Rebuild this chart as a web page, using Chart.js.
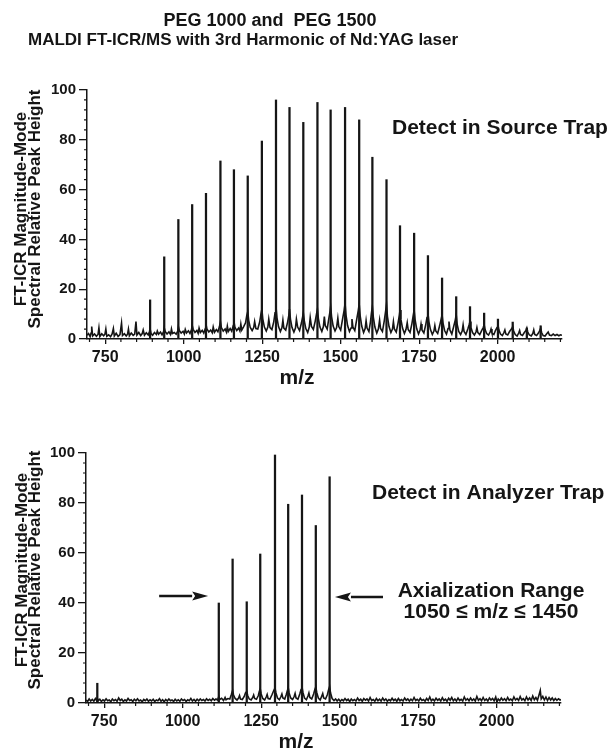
<!DOCTYPE html>
<html>
<head>
<meta charset="utf-8">
<script src="https://cdn.jsdelivr.net/npm/chart.js@4.4.1/dist/chart.umd.min.js"></script>
<style>
  html, body { margin: 0; padding: 0; background: #fff; }
  .wrap { position: relative; width: 612px; height: 751px; overflow: hidden; }
  canvas { position: absolute; left: 0; }
  #topChart { top: 0; }
  #bottomChart { top: 390px; }
</style>
</head>
<body>
<div class="wrap">
  <canvas id="topChart" width="612" height="390"></canvas>
  <canvas id="bottomChart" width="612" height="361"></canvas>
</div>
<script>
const INK = '#151515';
const FONT = "'Liberation Sans', Arial, Helvetica, sans-serif";

// axes
const mzRange = [692, 2205];
const mzTicks = [750, 1000, 1250, 1500, 1750, 2000];
const relTicks = [0, 20, 40, 60, 80, 100];

// PEG 1000 + PEG 1500, detect in source trap (peak m/z and relative height)
const sourcePeakMz = [893, 938, 983, 1027, 1071, 1117, 1160, 1204, 1249, 1294, 1337, 1381, 1426, 1468,
  1514, 1559, 1601, 1646, 1689, 1734, 1778, 1823, 1868, 1912, 1957, 2001, 2048, 2093, 2137];
const sourcePeakHeight = [15.7, 33, 48, 54, 58.5, 71.5, 68, 65.5, 79.5, 96, 93, 87, 95, 92,
  93, 88, 73, 64, 45.5, 42.5, 33.5, 24.5, 17, 13, 10.4, 8, 6.8, 4.4, 5.3];

// noisy trace under the peaks (m/z, height)
const sourceBaseline = [
  [692,1.5],[697,2.2],[702,1.0],[705,2.4],[707,5.0],[710,1.2],[716,2.0],[722,1.1],[727,1.8],[730,4.5],
  [733,1.0],[739,2.1],[745,1.3],[749,1.9],[752,4.0],[755,1.1],[761,1.7],[767,0.9],[772,2.0],[776,4.2],
  [779,1.2],[785,2.3],[791,1.0],[797,1.8],[802,6.4],[805,1.4],[811,2.1],[817,1.2],[821,1.9],[824,4.0],
  [827,1.3],[833,2.4],[839,1.5],[844,2.0],[848,7.0],[851,1.6],[857,2.6],[863,1.4],[868,2.2],[871,3.6],
  [875,1.5],[881,2.5],[887,1.6],[891,3.0],
  [893,4.0],[896,2.2],[901,1.5],[907,2.6],[913,1.8],[916,3.2],[920,1.9],[926,2.8],[931,1.7],[936,3.0],
  [938,4.5],[941,3.0],[947,2.0],[953,2.9],[958,1.8],[961,4.0],[964,2.2],[970,2.6],[976,1.9],[981,3.2],
  [983,5.0],[986,3.4],[992,2.4],[998,3.1],[1002,2.0],[1005,3.8],[1009,2.4],[1015,3.3],[1020,2.2],[1025,3.8],
  [1027,5.5],[1030,3.9],[1036,2.6],[1042,3.4],[1046,2.3],[1049,4.4],[1053,2.6],[1059,3.5],[1064,2.4],[1069,4.2],
  [1071,6.0],[1074,4.0],[1080,2.8],[1086,3.6],[1091,2.5],[1094,4.8],[1098,2.7],[1104,3.8],[1109,2.9],[1114,5.0],
  [1117,7.0],[1120,4.6],[1126,3.2],[1132,4.0],[1136,2.8],[1139,5.2],[1142,3.0],[1148,4.2],[1153,3.1],[1158,5.4],
  [1160,7.2],[1163,4.8],[1169,3.4],[1175,4.4],[1179,3.2],[1182,6.0],[1185,3.6],[1191,5.0],[1197,6.5],[1201,9.5],
  [1204,11.0],[1207,7.5],[1212,4.6],[1218,3.4],[1223,4.6],[1226,7.0],[1230,4.2],[1236,4.0],[1242,6.8],[1246,10.0],
  [1249,12.0],[1252,8.0],[1257,4.8],[1263,3.2],[1268,4.8],[1271,8.0],[1275,4.6],[1281,3.8],[1287,7.0],[1291,10.5],
  [1294,13.0],[1297,8.6],[1302,5.0],[1308,3.0],[1313,4.6],[1316,7.6],[1319,4.4],[1325,3.6],[1331,6.8],[1335,9.6],
  [1337,12.0],[1340,8.0],[1345,4.6],[1351,2.8],[1356,4.4],[1359,8.0],[1363,4.8],[1369,3.4],[1375,6.4],[1379,9.0],
  [1381,10.5],[1384,7.4],[1389,4.2],[1395,2.6],[1400,4.8],[1403,8.6],[1407,5.0],[1413,3.8],[1419,7.2],[1423,10.0],
  [1426,12.0],[1429,8.2],[1434,4.8],[1440,3.0],[1445,5.0],[1448,9.0],[1451,5.4],[1457,4.0],[1462,8.0],[1466,11.0],
  [1468,13.0],[1471,9.0],[1476,5.2],[1482,3.2],[1487,4.6],[1491,8.4],[1494,5.0],[1500,3.6],[1506,8.0],[1511,11.5],
  [1514,14.3],[1517,9.6],[1522,5.4],[1528,3.0],[1533,4.4],[1536,8.0],[1539,4.8],[1545,3.4],[1551,7.8],[1556,11.4],
  [1559,14.0],[1562,9.4],[1567,5.2],[1573,2.6],[1578,4.2],[1581,7.4],[1584,4.4],[1590,3.0],[1595,7.0],[1598,10.4],
  [1601,13.0],[1604,8.8],[1609,4.8],[1615,2.4],[1620,4.0],[1624,7.6],[1627,4.2],[1633,3.0],[1639,7.4],[1643,11.0],
  [1646,14.0],[1649,9.0],[1654,5.0],[1660,2.6],[1665,4.0],[1668,7.0],[1671,4.0],[1677,2.8],[1683,6.6],[1687,9.6],
  [1689,11.6],[1692,7.8],[1697,4.4],[1703,2.2],[1708,3.8],[1712,6.6],[1715,3.8],[1721,2.6],[1727,6.2],[1731,9.4],
  [1734,11.6],[1737,7.8],[1742,4.2],[1748,2.0],[1753,3.6],[1756,6.0],[1759,3.6],[1765,2.4],[1771,5.8],[1775,8.6],
  [1778,10.4],[1781,7.0],[1786,3.8],[1792,1.8],[1797,3.2],[1800,5.4],[1803,3.2],[1809,2.2],[1815,5.2],[1820,8.0],
  [1823,9.7],[1826,6.4],[1831,3.4],[1837,2.0],[1842,4.2],[1845,7.0],[1848,3.6],[1854,2.0],[1860,5.0],[1865,7.6],
  [1868,9.7],[1871,6.0],[1876,3.0],[1882,1.8],[1887,3.2],[1890,5.7],[1893,3.0],[1899,1.8],[1905,4.0],[1909,5.6],
  [1912,7.0],[1915,4.6],[1920,2.6],[1926,1.6],[1931,2.8],[1934,4.6],[1937,2.6],[1943,1.8],[1949,3.4],[1954,4.6],
  [1957,5.7],[1960,3.8],[1965,2.2],[1971,1.6],[1976,2.8],[1979,4.0],[1982,2.4],[1988,1.8],[1993,3.4],[1998,4.6],
  [2001,5.7],[2004,3.6],[2009,2.0],[2015,1.4],[2020,2.6],[2023,3.6],[2026,2.0],[2032,1.6],[2038,3.0],[2044,4.0],
  [2048,5.0],[2051,3.2],[2056,1.8],[2062,1.2],[2067,2.4],[2070,3.4],[2073,1.8],[2079,1.4],[2085,2.6],[2090,3.4],
  [2093,4.4],[2096,2.8],[2101,1.6],[2107,1.2],[2112,2.2],[2115,3.6],[2118,1.8],[2124,1.4],[2130,2.4],[2134,3.4],
  [2137,4.4],[2140,2.6],[2145,1.4],[2151,1.2],[2157,2.2],[2161,2.8],[2165,1.6],[2171,1.4],[2177,2.0],[2183,1.4],
  [2189,1.8],[2195,1.3],[2200,1.7],[2205,1.5]
];

// after axialization 1050-1450, detect in analyzer trap
const analyzerPeakMz = [728, 1115, 1159, 1204, 1247, 1294, 1336, 1380, 1424, 1468];
const analyzerPeakHeight = [7.9, 40, 57.6, 40.5, 59.6, 99.2, 79.5, 83.2, 71, 90.5];

const analyzerBaseline = [
  [692,1.2],[697,0.6],[702,1.6],[707,0.8],[712,1.4],[717,0.7],[722,1.8],[726,1.0],[728,2.0],[731,0.9],
  [736,1.5],[741,0.6],[746,1.3],[751,0.8],[756,1.7],[761,0.9],[766,1.2],[771,0.5],[776,1.6],[781,0.9],
  [786,1.4],[791,0.7],[796,2.0],[801,1.0],[806,1.5],[811,0.6],[816,1.3],[821,0.8],[826,1.8],[831,1.0],
  [836,1.3],[841,0.6],[846,1.5],[851,0.9],[856,1.7],[861,0.8],[866,1.2],[871,0.5],[876,1.4],[881,0.9],
  [886,1.6],[891,0.7],[896,1.3],[901,0.8],[906,1.5],[911,0.6],[916,1.2],[921,0.9],[926,1.7],[931,0.7],
  [936,1.3],[941,0.5],[946,1.4],[951,0.8],[956,1.6],[961,0.9],[966,1.2],[971,0.6],[976,1.5],[981,0.8],
  [986,1.3],[991,0.7],[996,1.6],[1001,1.0],[1006,1.4],[1011,0.6],[1016,1.3],[1021,0.9],[1026,1.8],[1031,0.8],
  [1036,1.4],[1041,0.7],[1046,1.5],[1051,0.9],[1056,1.6],[1061,1.0],[1066,1.4],[1071,0.8],[1076,1.7],[1081,1.0],
  [1086,1.5],[1091,0.9],[1096,1.8],[1101,1.1],[1106,1.6],[1111,1.2],
  [1115,2.6],[1118,1.4],[1124,1.9],[1130,1.0],[1135,2.2],[1138,1.3],[1144,1.8],[1150,1.6],[1155,3.4],
  [1159,5.0],[1162,3.2],[1167,1.8],[1173,1.2],[1178,2.0],[1181,3.0],[1184,1.6],[1190,1.4],[1196,2.6],[1200,4.0],
  [1204,4.6],[1207,3.0],[1212,1.6],[1218,1.2],[1223,2.2],[1226,3.2],[1229,1.8],[1235,1.5],[1241,3.0],[1244,4.6],
  [1247,5.6],[1250,3.6],[1255,1.8],[1261,1.2],[1266,2.4],[1269,3.4],[1272,1.8],[1278,1.6],[1284,3.2],[1290,5.0],
  [1294,6.0],[1297,4.0],[1302,2.0],[1308,1.3],[1313,2.6],[1316,3.6],[1319,2.0],[1325,1.6],[1330,3.4],[1334,5.2],
  [1336,6.2],[1339,4.0],[1344,2.0],[1350,1.4],[1355,2.6],[1358,3.8],[1361,2.0],[1367,1.5],[1373,3.6],[1377,5.4],
  [1380,6.4],[1383,4.2],[1388,2.0],[1394,1.3],[1399,2.8],[1402,4.0],[1405,2.2],[1411,1.6],[1417,3.6],[1421,5.4],
  [1424,6.4],[1427,4.2],[1432,2.0],[1438,1.2],[1443,2.8],[1446,3.8],[1449,2.0],[1455,1.6],[1461,3.4],[1465,5.4],
  [1468,6.6],[1471,4.0],[1476,1.8],[1482,1.0],[1487,1.6],[1492,0.8],[1497,1.5],[1502,0.7],[1507,1.4],[1512,0.9],
  [1517,1.8],[1522,1.0],[1527,1.5],[1532,0.6],[1537,1.6],[1542,0.9],[1547,1.4],[1552,0.8],[1557,2.0],[1562,1.0],
  [1567,1.5],[1572,0.7],[1577,1.8],[1582,1.1],[1587,1.6],[1592,0.8],[1597,2.2],[1602,1.0],[1607,1.4],[1612,0.7],
  [1617,1.8],[1622,0.9],[1627,1.5],[1632,0.8],[1637,2.0],[1642,1.0],[1647,1.6],[1652,0.7],[1657,1.4],[1662,0.9],
  [1667,1.9],[1672,1.0],[1677,1.5],[1682,0.7],[1687,1.8],[1692,0.9],[1697,1.4],[1702,0.8],[1707,2.0],[1712,1.1],
  [1717,1.6],[1722,0.8],[1727,1.5],[1732,0.9],[1737,2.2],[1742,1.0],[1747,1.5],[1752,0.8],[1757,1.9],[1762,1.0],
  [1767,1.4],[1772,0.7],[1777,1.8],[1782,1.0],[1787,2.4],[1792,0.9],[1797,1.5],[1802,0.8],[1807,1.9],[1812,1.1],
  [1817,1.6],[1822,0.8],[1827,2.1],[1832,1.0],[1837,1.5],[1842,0.7],[1847,1.9],[1852,1.1],[1857,2.2],[1862,0.9],
  [1867,1.6],[1872,0.8],[1877,2.0],[1882,1.0],[1887,1.5],[1892,0.8],[1897,2.4],[1902,1.1],[1907,1.7],[1912,0.9],
  [1917,2.0],[1922,1.0],[1927,1.6],[1932,0.8],[1937,2.6],[1942,1.1],[1947,1.7],[1952,0.9],[1957,2.2],[1962,1.0],
  [1967,1.6],[1972,0.8],[1977,2.0],[1982,1.2],[1987,1.8],[1992,0.9],[1997,2.4],[2001,0.4],[2005,1.6],[2010,0.9],
  [2015,2.0],[2020,1.1],[2025,1.7],[2030,0.9],[2035,2.2],[2040,1.1],[2045,1.6],[2050,0.9],[2055,2.4],[2060,1.2],
  [2065,1.8],[2070,1.0],[2075,2.6],[2080,1.2],[2085,1.7],[2090,0.9],[2095,2.4],[2100,1.2],[2105,2.0],[2110,1.0],
  [2115,2.8],[2120,1.3],[2125,2.2],[2130,1.1],[2135,3.2],[2139,5.0],[2142,1.6],[2147,2.6],[2152,1.2],[2157,2.4],
  [2162,1.0],[2167,2.2],[2172,1.2],[2177,2.0],[2182,1.0],[2187,1.8],[2192,1.1],[2197,1.7],[2202,1.2],[2205,1.4]
];

// axialization range arrows: [tail m/z, tip m/z, height]
const axialArrows = [[925, 1081, 42.8], [1638, 1485, 42.4]];

// minor ticks, annotation text and arrows
function overlayPlugin(texts, arrows) {
  return {
    id: 'overlay',
    afterDraw(chart) {
      const { ctx, chartArea: area, scales: { x, y } } = chart;
      ctx.save();
      ctx.strokeStyle = INK;
      ctx.fillStyle = INK;
      ctx.lineWidth = 1.2;
      ctx.beginPath();
      for (let v = 700; v <= 2200; v += 50) {
        if (v % 250 === 0) continue;
        const px = x.getPixelForValue(v);
        ctx.moveTo(px, area.bottom);
        ctx.lineTo(px, area.bottom + 3);
      }
      for (let v = 4; v < 100; v += 4) {
        if (v % 20 === 0) continue;
        const py = y.getPixelForValue(v);
        ctx.moveTo(area.left, py);
        ctx.lineTo(area.left - 3, py);
      }
      ctx.stroke();

      texts.forEach(t => {
        ctx.save();
        ctx.font = `bold ${t.size}px ${FONT}`;
        ctx.textAlign = t.align || 'left';
        ctx.textBaseline = 'middle';
        ctx.translate(t.x, t.y);
        if (t.rotate) ctx.rotate(t.rotate);
        ctx.fillText(t.text, 0, 0);
        ctx.restore();
      });

      arrows.forEach(a => {
        const x0 = x.getPixelForValue(a[0]);
        const x1 = x.getPixelForValue(a[1]);
        const py = y.getPixelForValue(a[2]);
        const dir = Math.sign(x1 - x0);
        const head = 16;
        ctx.lineWidth = 2.4;
        ctx.beginPath();
        ctx.moveTo(x0, py);
        ctx.lineTo(x1 - dir * head, py);
        ctx.stroke();
        ctx.beginPath();
        ctx.moveTo(x1, py);
        ctx.lineTo(x1 - dir * head, py - 4.5);
        ctx.lineTo(x1 - dir * (head - 3), py);
        ctx.lineTo(x1 - dir * head, py + 4.5);
        ctx.closePath();
        ctx.fill();
      });
      ctx.restore();
    }
  };
}

function makeChart(id, peakMz, peakHeight, baseline, box, overlay) {
  return new Chart(document.getElementById(id), {
    type: 'bar',
    data: {
      datasets: [
        {
          type: 'bar',
          data: peakMz.map((m, i) => ({ x: m, y: peakHeight[i] })),
          backgroundColor: INK,
          borderWidth: 0,
          barThickness: 1.6,
          grouped: false,
          order: 1
        },
        {
          type: 'line',
          data: baseline.map(p => ({ x: p[0], y: p[1] })),
          borderColor: INK,
          borderWidth: 1.6,
          pointRadius: 0,
          tension: 0,
          fill: false,
          order: 0
        }
      ]
    },
    options: {
      responsive: false,
      animation: false,
      events: [],
      layout: { padding: { top: box.top, right: box.right, left: 0, bottom: 0 } },
      plugins: { legend: { display: false }, tooltip: { enabled: false } },
      scales: {
        x: {
          type: 'linear',
          min: mzRange[0],
          max: mzRange[1],
          offset: false,
          afterBuildTicks: s => { s.ticks = mzTicks.map(v => ({ value: v })); },
          afterFit: s => { s.height = box.xHeight; },
          border: { display: true, color: INK, width: 1.5 },
          grid: { drawOnChartArea: false, offset: false, color: INK, tickLength: 5, lineWidth: 1.3 },
          ticks: { color: INK, padding: 4, maxRotation: 0, autoSkip: false,
                   callback: v => String(v),
                   font: { family: FONT, weight: 'bold', size: 16 } }
        },
        y: {
          min: 0,
          max: 100,
          afterBuildTicks: s => { s.ticks = relTicks.map(v => ({ value: v })); },
          afterFit: s => { s.width = box.yWidth; },
          border: { display: true, color: INK, width: 1.5 },
          grid: { drawOnChartArea: false, color: INK, tickLength: 8, lineWidth: 1.3 },
          ticks: { color: INK, padding: 3, callback: v => String(v),
                   font: { family: FONT, weight: 'bold', size: 15 } }
        }
      }
    },
    plugins: [overlay]
  });
}

const yTitle1 = 'FT-ICR Magnitude-Mode';
const yTitle2 = 'Spectral Relative Peak Height';

makeChart('topChart', sourcePeakMz, sourcePeakHeight, sourceBaseline,
  { top: 90, right: 50, xHeight: 51, yWidth: 87 },
  overlayPlugin([
    { text: 'PEG 1000 and  PEG 1500', x: 270, y: 21, size: 18, align: 'center' },
    { text: 'MALDI FT-ICR/MS with 3rd Harmonic of Nd:YAG laser', x: 28, y: 40, size: 17 },
    { text: yTitle1, x: 21, y: 209, size: 17, align: 'center', rotate: -Math.PI / 2 },
    { text: yTitle2, x: 35, y: 209, size: 17, align: 'center', rotate: -Math.PI / 2 },
    { text: 'm/z', x: 297, y: 378, size: 21, align: 'center' },
    { text: 'Detect in Source Trap', x: 392, y: 128, size: 21 }
  ], []));

makeChart('bottomChart', analyzerPeakMz, analyzerPeakHeight, analyzerBaseline,
  { top: 63, right: 51, xHeight: 48, yWidth: 86 },
  overlayPlugin([
    { text: yTitle1, x: 22, y: 180, size: 17, align: 'center', rotate: -Math.PI / 2 },
    { text: yTitle2, x: 35, y: 180, size: 17, align: 'center', rotate: -Math.PI / 2 },
    { text: 'm/z', x: 296, y: 352, size: 21, align: 'center' },
    { text: 'Detect in Analyzer Trap', x: 372, y: 103, size: 21 },
    { text: 'Axialization Range', x: 491, y: 201, size: 21, align: 'center' },
    { text: '1050 \u2264 m/z \u2264 1450', x: 491, y: 222, size: 21, align: 'center' }
  ], axialArrows));
</script>
</body>
</html>
